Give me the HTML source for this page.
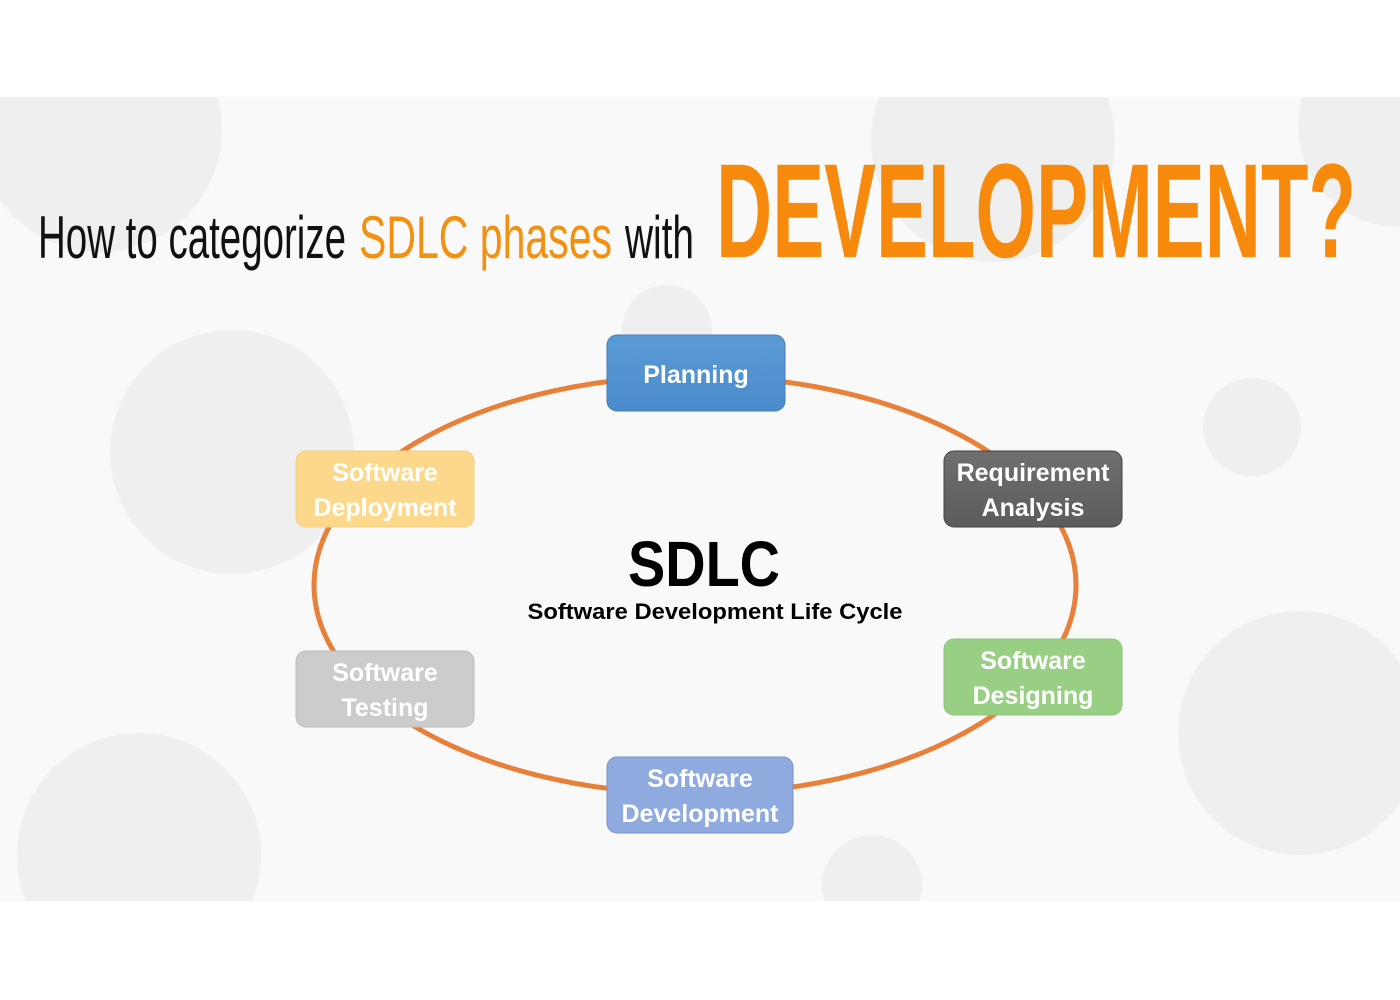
<!DOCTYPE html>
<html><head><meta charset="utf-8"><style>
html,body{margin:0;padding:0;width:1400px;height:1000px;background:#fff;overflow:hidden}
</style></head><body>
<svg width="1400" height="1000" xmlns="http://www.w3.org/2000/svg">
<defs>
<clipPath id="bg"><rect x="0" y="97" width="1400" height="804"/></clipPath>
<linearGradient id="gb" x1="0" y1="0" x2="0" y2="1"><stop offset="0" stop-color="#5b9bd5"/><stop offset="1" stop-color="#4a8bcb"/></linearGradient>
<linearGradient id="gg" x1="0" y1="0" x2="0" y2="1"><stop offset="0" stop-color="#6f6f6f"/><stop offset="1" stop-color="#5c5c5c"/></linearGradient>
</defs>
<rect x="0" y="97" width="1400" height="804" fill="#f9f9f9"/>
<g clip-path="url(#bg)" fill="#efefef">
<circle cx="100" cy="130" r="122"/>
<circle cx="993" cy="140" r="122"/>
<circle cx="1400" cy="125" r="102"/>
<circle cx="232" cy="452" r="122"/>
<circle cx="667" cy="330" r="45"/>
<circle cx="1252" cy="427" r="49"/>
<circle cx="1300" cy="733" r="122"/>
<circle cx="139" cy="855" r="122"/>
<circle cx="872" cy="885" r="50"/>
</g>
<text x="38" y="258" font-family="Liberation Sans Narrow, Liberation Sans, sans-serif" font-size="60" fill="#111" textLength="308" lengthAdjust="spacingAndGlyphs">How to categorize</text>
<text x="359" y="258" font-family="Liberation Sans Narrow, Liberation Sans, sans-serif" font-size="60" fill="#f29111" textLength="253" lengthAdjust="spacingAndGlyphs">SDLC phases</text>
<text x="625" y="258" font-family="Liberation Sans Narrow, Liberation Sans, sans-serif" font-size="60" fill="#111" textLength="69" lengthAdjust="spacingAndGlyphs">with</text>
<text x="716" y="257" font-family="Liberation Sans Narrow, Liberation Sans, sans-serif" font-weight="bold" font-size="134" fill="#f7890c" textLength="640" lengthAdjust="spacingAndGlyphs">DEVELOPMENT?</text>
<ellipse cx="695" cy="585" rx="381" ry="209" fill="none" stroke="#e8803a" stroke-width="5"/>
<g font-family="Liberation Sans, DejaVu Sans, sans-serif" font-weight="bold" font-size="25" text-anchor="middle">
<rect x="607" y="335" width="178" height="76" rx="10" fill="url(#gb)" stroke="#4a7fb5"/>
<text x="696" y="383" fill="#fff">Planning</text>
<rect x="944" y="451" width="178" height="76" rx="10" fill="url(#gg)" stroke="#444"/>
<text x="1033" y="481" fill="#fff">Requirement</text>
<text x="1033" y="516" fill="#fff">Analysis</text>
<rect x="944" y="639" width="178" height="76" rx="10" fill="#98cf84" stroke="#8cc47a"/>
<text x="1033" y="669" fill="#fff">Software</text>
<text x="1033" y="704" fill="#fff">Designing</text>
<rect x="607" y="757" width="186" height="76" rx="10" fill="#8eaadf" stroke="#7894cc"/>
<text x="700" y="787" fill="#fff">Software</text>
<text x="700" y="822" fill="#fff">Development</text>
<rect x="296" y="651" width="178" height="76" rx="10" fill="#cccccc" stroke="#bdbdbd"/>
<text x="385" y="681" fill="#fff">Software</text>
<text x="385" y="716" fill="#fff">Testing</text>
<rect x="296" y="451" width="178" height="76" rx="10" fill="#fbd88c" stroke="#f5cf7e"/>
<text x="385" y="481" fill="#fff">Software</text>
<text x="385" y="516" fill="#fff">Deployment</text>
</g>
<text x="704" y="586" font-family="Liberation Sans, DejaVu Sans, sans-serif" font-weight="bold" font-size="64" text-anchor="middle" fill="#000" textLength="152" lengthAdjust="spacingAndGlyphs">SDLC</text>
<text x="715" y="619" font-family="Liberation Sans, DejaVu Sans, sans-serif" font-weight="bold" font-size="22" text-anchor="middle" fill="#000" textLength="375" lengthAdjust="spacingAndGlyphs">Software Development Life Cycle</text>
</svg>
</body></html>
